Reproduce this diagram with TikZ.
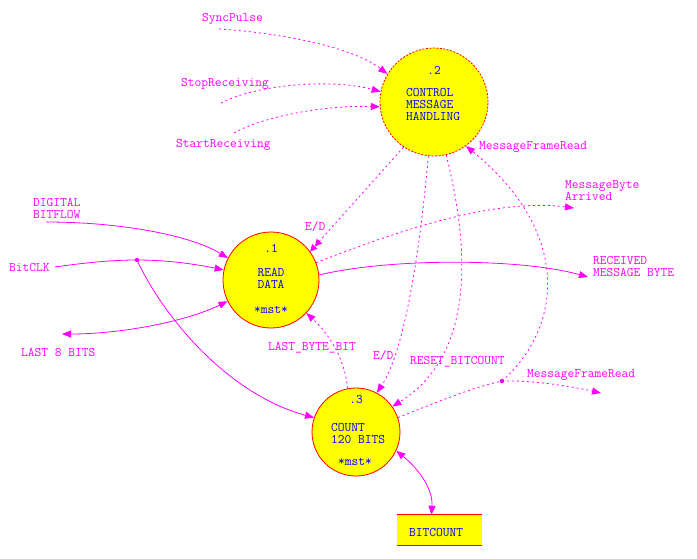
\documentclass[tikz,border=0pt]{standalone}
\usepackage{fontspec}
\usetikzlibrary{arrows.meta}
\definecolor{mag}{RGB}{255,0,255}
\definecolor{nblue}{RGB}{0,0,255}
\definecolor{nyel}{RGB}{255,255,0}
\definecolor{nred}{RGB}{255,0,0}
\begin{document}
\begin{tikzpicture}[x=1pt,y=-1pt,
  font=\ttfamily\fontsize{13.1}{14}\selectfont,
  proc/.style={circle,draw=nred,fill=nyel,line width=0.8pt,inner sep=0pt},
  ptext/.style={text=nblue,inner sep=0pt},
  pleft/.style={ptext,anchor=base west},
  pmid/.style={ptext,anchor=base},
  ftext/.style={text=mag,inner sep=0pt,anchor=base west},
  tight/.style={text height=8pt,text depth=0.5pt},
  flow/.style={draw=mag,line width=0.8pt},
  sig/.style={flow,dash pattern=on 2pt off 3pt},
  tip/.style={-{Triangle[length=9pt,width=7pt]}},
  tiptwo/.style={{Triangle[length=9pt,width=7pt]}-{Triangle[length=9pt,width=7pt]}},
  tipdbl/.style={-{Triangle[length=7pt,width=7pt]Triangle[length=7pt,width=7pt]}},
  junct/.style={circle,fill=mag,inner sep=0pt,minimum size=4.5pt}
]
\useasboundingbox (0,0) rectangle (697,558);

% processes
\node[proc,minimum size=108pt,dash pattern=on 2pt off 1.5pt] (c2) at (434,102) {};
\node[proc,minimum size=96pt] (c1) at (271,280) {};
\node[proc,minimum size=88pt] (c3) at (356,432) {};
\node[fill=nyel,minimum width=85pt,minimum height=30pt,inner sep=0pt] (bc) at (439.5,530) {};
\draw[nred,line width=0.8pt] (bc.north west) -- (bc.north east);
\draw[nred,line width=0.8pt] (bc.south west) -- (bc.south east);

% process texts
\node[pmid] (t2n) at (434,74) {.2};
\node[pleft,tight] (t2a) at (406,96) {CONTROL};
\node[pleft,tight] (t2b) at (406,108) {MESSAGE};
\node[pleft,tight] (t2c) at (406,120) {HANDLING};
\node[pmid] (t1n) at (271,252) {.1};
\node[pmid,tight] (t1a) at (271,276) {READ};
\node[pmid,tight] (t1b) at (271,288) {DATA};
\node[pmid] (t1c) at (271,313) {*mst*};
\node[pmid] (t3n) at (356,403) {.3};
\node[pleft,tight] (t3a) at (331,431) {COUNT};
\node[pleft,tight] (t3b) at (331,443) {120 BITS};
\node[pmid] (t3c) at (355,465) {*mst*};
\node[pleft] (tbc) at (409,536) {BITCOUNT};

% flow labels
\node[ftext] (lsync) at (202,21) {SyncPulse};
\node[ftext] (lstop) at (181,86) {StopReceiving};
\node[ftext] (lstart) at (176,147) {StartReceiving};
\node[ftext] (lmfr1) at (479,149) {MessageFrameRead};
\node[ftext,tight] (ldig1) at (33,206) {DIGITAL};
\node[ftext,tight] (ldig2) at (33,218) {BITFLOW};
\node[ftext] (lclk) at (9,271) {BitCLK};
\node[ftext] (l8b) at (21,356) {LAST 8 BITS};
\node[ftext] (led1) at (305,230) {E/D};
\node[ftext] (llbb) at (268,350) {LAST\_BYTE\_BIT};
\node[ftext] (led2) at (373,359) {E/D};
\node[ftext] (lrst) at (410,364) {RESET\_BITCOUNT};
\node[ftext] (lmfr2) at (527,377) {MessageFrameRead};
\node[ftext,tight] (lmba) at (565,188) {MessageByte};
\node[ftext,tight] (lmbb) at (565,200) {Arrived};
\node[ftext,tight] (lrmb1) at (593,264) {RECEIVED};
\node[ftext,tight] (lrmb2) at (593,276) {MESSAGE BYTE};

% free ends
\coordinate (psync) at (219,29);
\coordinate (pstop) at (221,103);
\coordinate (pstart) at (234,133);
\coordinate (pdig) at (46,222);
\coordinate (pclk) at (55,267);
\coordinate (p8b) at (62,334);
\coordinate (prmb) at (588,277);
\coordinate (pmba) at (574,208);
\coordinate (pmfr) at (601,393);
\coordinate (pbc) at ([xshift=-8pt]bc.north);
\node[junct] (j1) at (137,260) {};
\node[junct] (j2) at (502,381) {};

% inputs to .2
\draw[sig,tip] (psync) .. controls (270,32) and (350,45) .. (c2.149);
\draw[sig,tip] (pstop) .. controls (255,85) and (330,78) .. (c2.169);
\draw[sig,tip] (pstart) .. controls (260,118) and (320,105) .. (c2.185);

% inputs to .1
\draw[flow,tip] (pdig) .. controls (120,222) and (190,235) .. (c1.153);
\draw[flow] (pclk) .. controls (90,262) and (115,260) .. (j1.center);
\draw[flow,tip] (j1.center) .. controls (170,260) and (200,265) .. (c1.168);
\draw[flow,tip] (j1.center) .. controls (165,320) and (230,395) .. (c3.161);
\draw[flow,tiptwo] (p8b) .. controls (120,334) and (185,322) .. (c1.206);

% outputs of .1
\draw[flow,tip] (c1.6) .. controls (390,258) and (520,258) .. (prmb);
\draw[sig,tip] (c1.21) .. controls (400,230) and (495,198) .. (pmba);

% .2 to .1 and .3
\draw[sig,tipdbl] (c2.236) -- (c1.36);
\draw[sig,tip] (c2.264) .. controls (420,250) and (405,350) .. (c3.62);
\draw[sig,tip] (c2.283) .. controls (470,250) and (475,355) .. (c3.35);

% .3 outputs
\draw[sig] (c3.19) .. controls (430,405) and (470,388) .. (j2.center);
\draw[sig,tip] (j2.center) .. controls (560,330) and (575,235) .. (c2.306);
\draw[sig,tip] (j2.center) .. controls (530,380) and (570,386) .. (pmfr);
\draw[sig,tip] (c3.101) .. controls (345,360) and (330,335) .. (c1.317);

% store
\draw[flow,tiptwo] (c3.335) .. controls (420,470) and (433,490) .. (pbc);
\end{tikzpicture}
\end{document}
